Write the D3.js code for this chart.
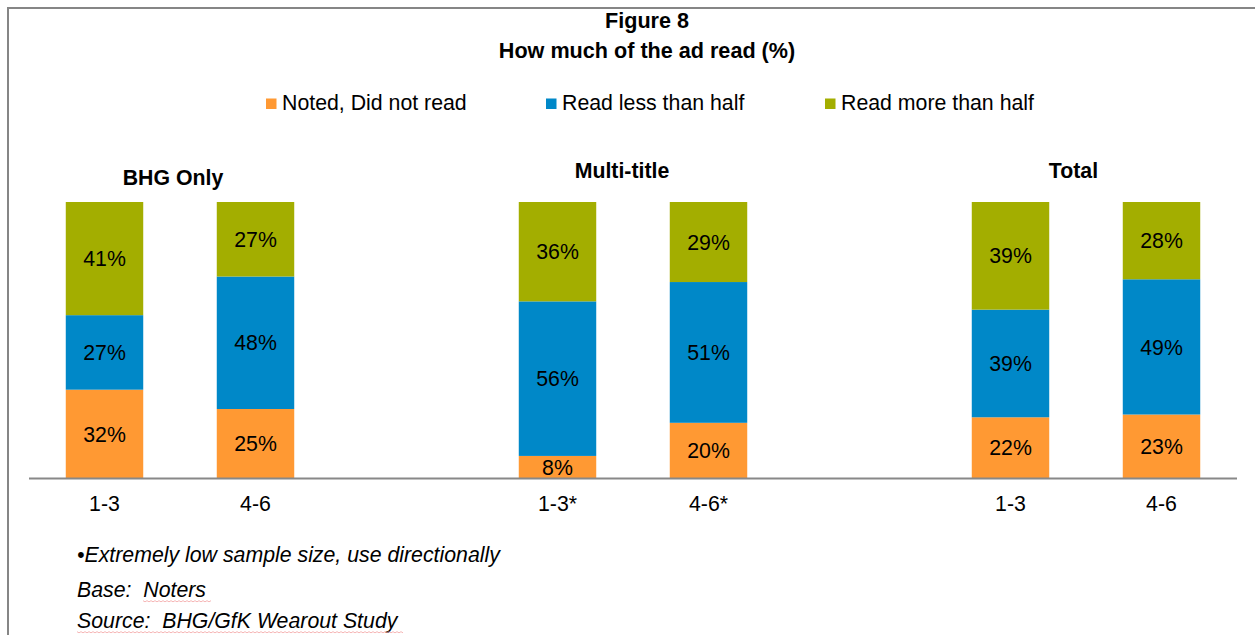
<!DOCTYPE html>
<html>
<head>
<meta charset="utf-8">
<script src="https://cdn.jsdelivr.net/npm/d3@7"></script>
<style>
  html, body { margin: 0; padding: 0; background: #fff; }
  svg { display: block; font-family: "Liberation Sans", Arial, sans-serif; }
  .pre { white-space: pre; }
</style>
</head>
<body>
<svg id="chart" width="1255" height="635"></svg>
<script>
// Survey groups and the issue periods shown beneath each bar
const groups = ["BHG Only", "Multi-title", "Total"];
const periodLabels = ["1-3", "4-6", "1-3*", "4-6*", "1-3", "4-6"];
const barGroup = [0, 0, 1, 1, 2, 2];

// Share of noters (%) by how much of the ad they read
const notedDidNotRead = [32, 25, 8, 20, 22, 23];
const readLessThanHalf = [27, 48, 56, 51, 39, 49];
const readMoreThanHalf = [41, 27, 36, 29, 39, 28];

const seriesNames = ["Noted, Did not read", "Read less than half", "Read more than half"];
const seriesColors = ["#FF9933", "#0088C8", "#A3AE00"];

const footnotes = [
  "\u2022Extremely low sample size, use directionally",
  "Base:  Noters",
  "Source:  BHG/GfK Wearout Study"
];

const svg = d3.select("#chart");
const W = 1255, H = 635;
const FS = 21.3;

// Frame lines
svg.append("line").attr("x1", 8).attr("x2", W).attr("y1", 8).attr("y2", 8)
  .attr("stroke", "#868686").attr("stroke-width", 2);
svg.append("line").attr("x1", 8).attr("x2", 8).attr("y1", 7).attr("y2", H)
  .attr("stroke", "#868686").attr("stroke-width", 2);

// Slots: two bars per group, with an empty slot between groups
const slots = [];
periodLabels.forEach((p, i) => {
  if (i > 0 && barGroup[i] !== barGroup[i - 1]) slots.push("gap" + i);
  slots.push("bar" + i);
});

const x = d3.scaleBand().domain(slots).range([29, 1237])
  .paddingInner(0.487).paddingOuter(0.2435);
const y = d3.scaleLinear().domain([0, 100]).range([478, 202]);

const rows = periodLabels.map((p, i) => ({
  key: "bar" + i,
  period: p,
  s0: notedDidNotRead[i],
  s1: readLessThanHalf[i],
  s2: readMoreThanHalf[i]
}));
const stack = d3.stack().keys(["s0", "s1", "s2"])(rows);

// Stacked bars
const layer = svg.append("g").selectAll("g").data(stack).join("g")
  .attr("fill", (d, i) => seriesColors[i]);
layer.selectAll("rect").data(d => d).join("rect")
  .attr("x", d => x(d.data.key))
  .attr("width", x.bandwidth())
  .attr("y", d => y(d[1]))
  .attr("height", d => y(d[0]) - y(d[1]));

// Segment value labels
layer.selectAll("text").data(d => d).join("text")
  .attr("x", d => x(d.data.key) + x.bandwidth() / 2)
  .attr("y", d => (y(d[0]) + y(d[1])) / 2 + FS * 0.36)
  .attr("text-anchor", "middle")
  .attr("fill", "#000")
  .attr("font-size", FS)
  .text(d => (d[1] - d[0]) + "%");

// Category axis
const xAxis = d3.axisBottom(x).tickSize(0).tickPadding(0)
  .tickFormat(k => k.startsWith("bar") ? periodLabels[+k.slice(3)] : "");
const ax = svg.append("g").attr("transform", "translate(0,478.5)").call(xAxis);
ax.select(".domain").attr("stroke", "#888").attr("stroke-width", 2)
  .attr("d", "M29,0H1237");
ax.selectAll(".tick text").attr("font-size", FS).attr("fill", "#000")
  .attr("font-family", "Liberation Sans, Arial, sans-serif")
  .attr("dy", 0).attr("y", 32.5);

// Group headings
const headingNudge = [{ dx: -7, y: 185 }, { dx: -11, y: 178 }, { dx: -12.5, y: 178 }];
groups.forEach((g, gi) => {
  const idx = barGroup.map((b, i) => b === gi ? i : -1).filter(i => i >= 0);
  const cx = d3.mean(idx, i => x("bar" + i) + x.bandwidth() / 2);
  svg.append("text")
    .attr("x", cx + headingNudge[gi].dx)
    .attr("y", headingNudge[gi].y)
    .attr("text-anchor", "middle")
    .attr("font-weight", "bold")
    .attr("font-size", FS)
    .text(g);
});

// Title
svg.append("text").attr("x", 647).attr("y", 28).attr("text-anchor", "middle")
  .attr("font-weight", "bold").attr("font-size", 21.6).text("Figure 8");
svg.append("text").attr("x", 647).attr("y", 58).attr("text-anchor", "middle")
  .attr("font-weight", "bold").attr("font-size", 21.6).text("How much of the ad read (%)");

// Legend
const legendX = [266, 546, 825];
const legend = svg.append("g").selectAll("g").data(seriesNames).join("g")
  .attr("transform", (d, i) => `translate(${legendX[i]},0)`);
legend.append("rect").attr("x", 0).attr("y", 98.5).attr("width", 10.5).attr("height", 10.5)
  .attr("fill", (d, i) => seriesColors[i]);
legend.append("text").attr("x", 16).attr("y", 110).attr("font-size", FS).text(d => d);

// Footnotes
const noteY = [562, 597, 628];
footnotes.forEach((t, i) => {
  svg.append("text").attr("class", "pre").attr("x", 77).attr("y", noteY[i])
    .attr("font-style", "italic").attr("font-size", FS).text(t);
});
// Proofing squiggles under the base and source lines
function squiggle(x0, x1, yy) {
  const pts = [];
  for (let xx = x0, k = 0; xx <= x1; xx += 2, k++) pts.push([xx, yy + (k % 2 ? 0.8 : -0.3)]);
  svg.append("path").attr("d", d3.line()(pts)).attr("fill", "none")
    .attr("stroke", "#F29A9A").attr("stroke-width", 0.9).attr("opacity", 0.8);
}
squiggle(143, 212, 601);
squiggle(77, 404, 632);
</script>
</body>
</html>
